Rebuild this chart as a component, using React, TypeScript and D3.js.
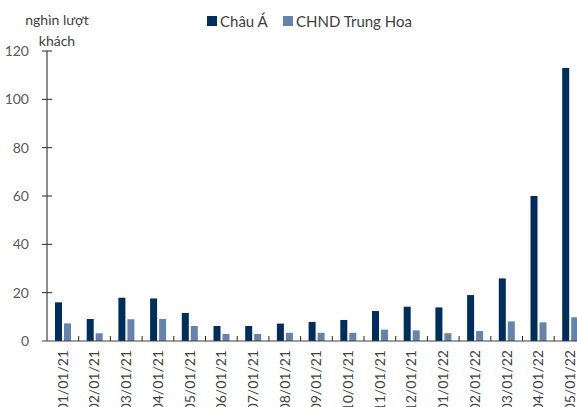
import React from "react";
import * as d3 from "d3";

const categories = ["01/01/21","02/01/21","03/01/21","04/01/21","05/01/21","06/01/21","07/01/21","08/01/21","09/01/21","10/01/21","11/01/21","12/01/21","01/01/22","02/01/22","03/01/22","04/01/22","05/01/22"];
const asia = [16.0, 9.1, 17.9, 17.6, 11.6, 6.2, 6.2, 7.2, 7.9, 8.7, 12.4, 14.2, 13.9, 19.0, 25.9, 60.0, 113.0];
const china = [7.3, 3.2, 9.0, 9.1, 6.2, 2.9, 2.9, 3.4, 3.4, 3.4, 4.7, 4.4, 3.2, 4.1, 8.1, 7.7, 9.8];
const yTicks = [0, 20, 40, 60, 80, 100, 120];
const seriesNames = ["Châu Á", "CHND Trung Hoa"];
const colors = ["#002e5c", "#6584ab"];

export default function App() {
  const W = 577, H = 407;
  const x0 = 47, bandW = 31.7;
  const x = d3.scaleBand<string>().domain(categories).range([x0, x0 + bandW * categories.length]).paddingInner(0).paddingOuter(0);
  const y = d3.scaleLinear().domain([0, 120]).range([341, 51]);
  const font = "Lato, 'Open Sans', sans-serif";
  const barW = 7;
  return (
    <svg width={W} height={H} style={{ position: "absolute", left: 0, top: 0, overflow: "hidden" }} fontFamily={font}>
      {/* y axis label */}
      <text x={57} y={25} fontSize={14} fill="#404040" textAnchor="middle">nghìn lượt</text>
      <text x={57} y={46} fontSize={14} fill="#404040" textAnchor="middle">khách</text>
      {/* legend */}
      {seriesNames.map((n, i) => {
        const lx = i === 0 ? 207 : 283;
        return (
          <g key={n}>
            <rect x={lx} y={16} width={10} height={10} fill={colors[i]} />
            <text x={lx + 13} y={27} fontSize={15} fill="#404040">{n}</text>
          </g>
        );
      })}
      {/* y ticks */}
      {yTicks.map(t => (
        <g key={t}>
          <text x={29} y={y(t)} dy="0.35em" fontSize={14} fill="#595959" textAnchor="end">{t}</text>
          {t > 0 && <line x1={42} x2={52} y1={y(t)} y2={y(t)} stroke="#262626" strokeWidth={1} />}
        </g>
      ))}
      {/* bars */}
      {categories.map((c, i) => {
        const bx = x(c)!;
        return (
          <g key={c}>
            <rect x={bx + 8} y={y(asia[i])} width={barW} height={y(0) - y(asia[i])} fill={colors[0]} />
            <rect x={bx + 17} y={y(china[i])} width={barW} height={y(0) - y(china[i])} fill={colors[1]} />
          </g>
        );
      })}
      {/* x ticks */}
      {categories.map((c, i) => i > 0 ? (
        <line key={c} x1={x(c)!} x2={x(c)!} y1={336} y2={341} stroke="#262626" strokeWidth={1} />
      ) : null)}
      {/* axes */}
      <line x1={47} x2={47} y1={51} y2={341} stroke="#404040" strokeWidth={1.2} />
      <line x1={42} x2={W} y1={341} y2={341} stroke="#404040" strokeWidth={1.2} />
      {/* x labels */}
      {categories.map(c => {
        const cx = x(c)! + bandW / 2;
        return (
          <text key={c} transform={`translate(${cx},350) rotate(-90)`} dy="0.35em" fontSize={14} fill="#404040" textAnchor="end">{c}</text>
        );
      })}
    </svg>
  );
}
